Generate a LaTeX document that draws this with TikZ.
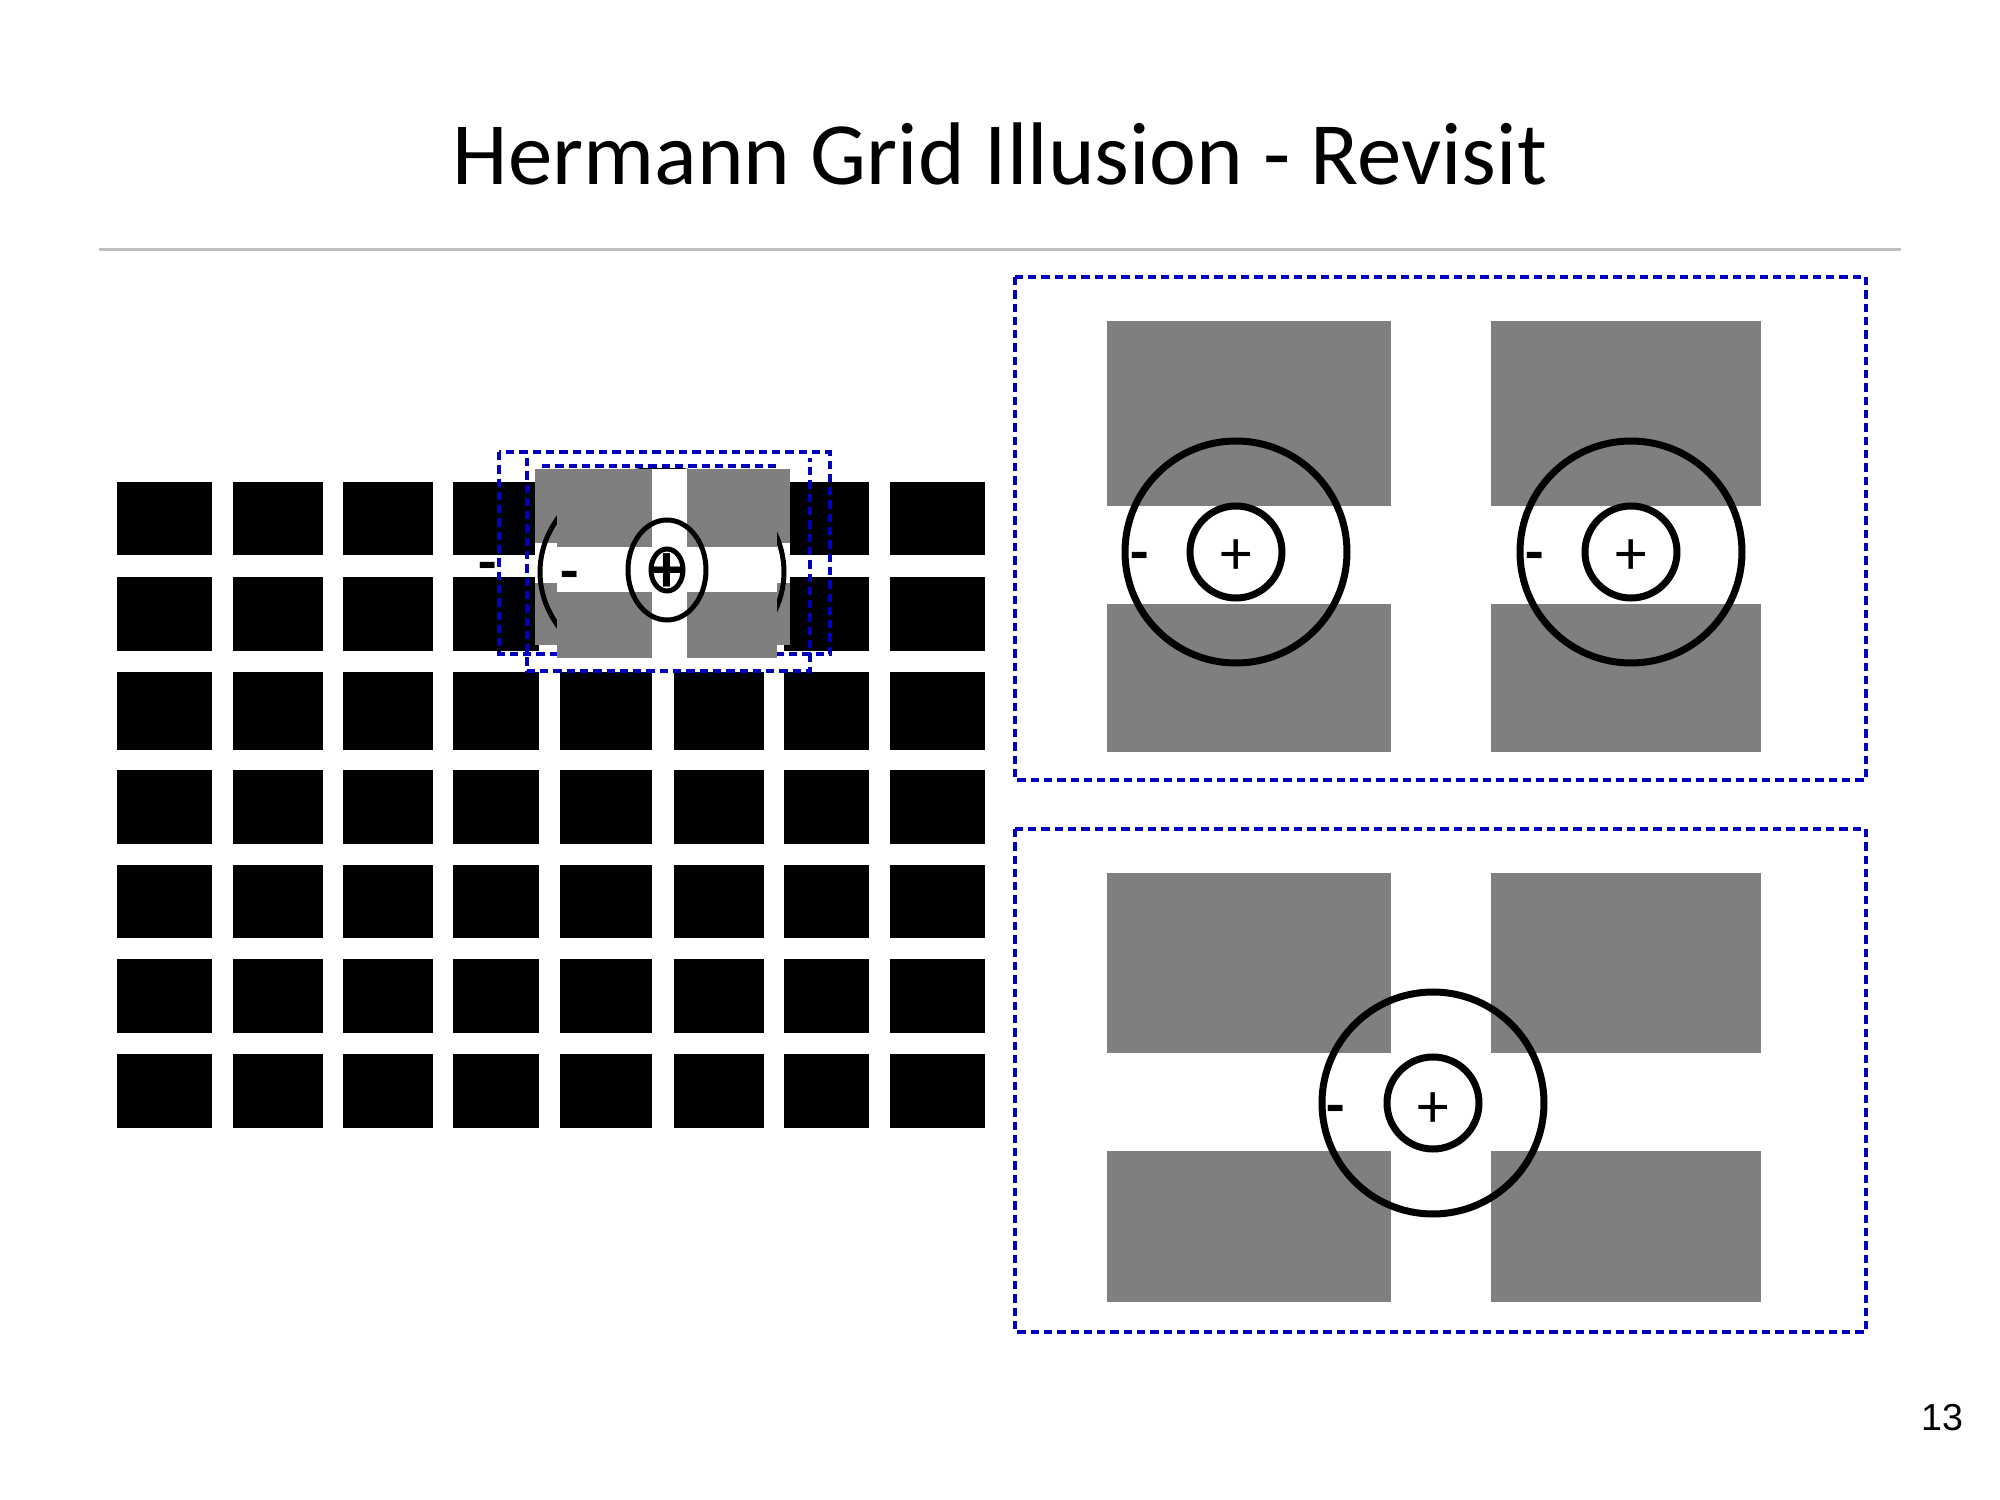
\documentclass[tikz,border=0pt]{standalone}
\usepackage{fontspec}
\setmainfont{Carlito}
\newfontfamily\pagefont{Liberation Sans}
\definecolor{patchgray}{RGB}{127,127,127}
\definecolor{boxblue}{RGB}{0,0,190}
\definecolor{rulegray}{RGB}{192,192,192}

\tikzset{
  patch/.style={fill=patchgray},
  rfield/.style={draw=black, line width=0.7mm},
  smallfield/.style={draw=black, line width=0.5mm},
  zoombox/.style={draw=boxblue, line width=0.37mm, dash pattern=on 0.83mm off 0.5mm},
  sign/.style={font=\fontsize{18}{20}\selectfont, inner sep=0pt},
  minussign/.style={sign, font=\bfseries\fontsize{17}{20}\selectfont, anchor=base}
}

\begin{document}
\begin{tikzpicture}[x=0.1mm, y=-0.1mm]
      % Page of the slide
      \useasboundingbox (0,0) rectangle (2000,1500);

      % Title and rule
      \node[anchor=base, font=\fontsize{25.3}{30}\selectfont] (title) at (1000,185) {Hermann Grid Illusion - Revisit};
      \draw[rulegray, line width=0.3mm] (99,250) -- (1901,250);

      % Draw the Hermann grid
      \foreach \xa/\xb in {117/212, 233/323, 343/433, 453/539, 560/652, 674/764, 784/869, 890/985}
        \foreach \ya/\yb in {482/555, 577/651, 672/750, 770/844, 865/938, 959/1033, 1054/1128}
          \fill[black] (\xa,\ya) rectangle (\xb,\yb);

      % First zoom box on the grid
      \draw[zoombox] (499,452) rectangle (830,654);

      % First pasted patch with the large surround
      \fill[white] (535,469) rectangle (790,645);
      \fill[patch] (535,469) rectangle (652,543);
      \fill[patch] (687,469) rectangle (790,543);
      \fill[patch] (535,583) rectangle (652,645);
      \fill[patch] (687,583) rectangle (790,645);
      \begin{scope}
        \clip (535,469) rectangle (790,645);
        \draw[smallfield] (662,572) ellipse [x radius=122, y radius=103];
      \end{scope}

      % Second pasted patch
      \fill[white] (557,469) rectangle (777,658);
      \fill[patch] (557,469) rectangle (652,547);
      \fill[patch] (687,469) rectangle (777,547);
      \fill[patch] (557,592) rectangle (652,658);
      \fill[patch] (687,592) rectangle (777,658);

      % Receptive field on the grid
      \coordinate (G) at (667,570);
      \draw[smallfield] (G) ellipse [x radius=39, y radius=50];
      \draw[smallfield] (G) ellipse [x radius=16, y radius=21];
      \node[sign, font=\bfseries\fontsize{20}{22}\selectfont] (gplus) at (667,573) {+};
      \node[minussign] (gminus) at (570,591) {-};
      \node[minussign] (gout) at (488,583) {-};

      % Second zoom box on the grid
      \draw[zoombox] (527,458) -- (527,671) -- (810,671) -- (810,458);
      \draw[zoombox] (542,466) -- (780,466);

      % Upper panel: field on a bar and on a bar next to it
      \draw[zoombox] (1015,277) rectangle (1866,780);
      \foreach \xa/\xb in {1107/1391, 1491/1761} {
        \fill[patch] (\xa,321) rectangle (\xb,506);
        \fill[patch] (\xa,604) rectangle (\xb,752);
      }
      \foreach \cx/\nm in {1236/A, 1631/B} {
        \coordinate (\nm) at (\cx,552);
        \draw[rfield] (\nm) circle (111);
        \draw[rfield] (\nm) circle (46);
        \node[sign] (plus\nm) at (\cx,557) {+};
        \node[minussign] (minus\nm) at (\cx-96,572) {-};
      }

      % Lower panel: field on a crossing
      \draw[zoombox] (1015,829) rectangle (1866,1332);
      \foreach \xa/\xb in {1107/1391, 1491/1761} {
        \fill[patch] (\xa,873) rectangle (\xb,1053);
        \fill[patch] (\xa,1151) rectangle (\xb,1302);
      }
      \coordinate (C) at (1433,1103);
      \draw[rfield] (C) circle (111);
      \draw[rfield] (C) circle (46);
      \node[sign] (plusC) at (1433,1110) {+};
      \node[minussign] (minusC) at (1336,1125) {-};

      % Slide number
      \node[anchor=base, font=\pagefont\fontsize{10.7}{12}\selectfont] (page) at (1942,1430) {13};
\end{tikzpicture}
\end{document}
